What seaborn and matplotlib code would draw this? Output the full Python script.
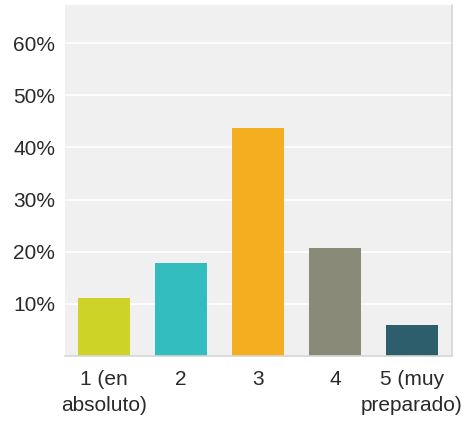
import matplotlib
matplotlib.use("Agg")
import matplotlib.pyplot as plt
import seaborn as sns
import pandas as pd

categories = ["1 (en\nabsoluto)", "2", "3", "4", "5 (muy\npreparado)"]
values = [11.1, 17.8, 43.7, 20.7, 5.9]
colors = ["#cdd427", "#33bdbf", "#f5ae1f", "#8a8a79", "#2d5e6b"]
yticks = [10, 20, 30, 40, 50, 60]
ytick_labels = ["10%", "20%", "30%", "40%", "50%", "60%"]

sns.set_theme(style="white")
plt.rcParams['font.family'] = ['Liberation Sans', 'DejaVu Sans']

df = pd.DataFrame({"cat": categories, "val": values})

fig = plt.figure(figsize=(4.65, 4.22), dpi=100)
ax = fig.add_axes([65/465, 1 - 356/422, (452-65)/465, (356-5)/422])
ax.set_facecolor("#f0f0f0")

sns.barplot(data=df, x="cat", y="val", hue="cat", palette=colors,
            width=0.675, legend=False, ax=ax, saturation=1, linewidth=0)

ax.set_ylim(0, 67.3)
ax.set_xlim(-0.506, 4.52)
ax.set_yticks(yticks)
ax.set_yticklabels(ytick_labels)
ax.yaxis.grid(True, color="white", linewidth=1.2)
ax.set_axisbelow(True)
ax.set_xlabel("")
ax.set_ylabel("")
ax.tick_params(axis="both", length=0, labelsize=15, labelcolor="#2a2a2a")
ax.tick_params(axis="y", pad=7)
ax.tick_params(axis="x", pad=10)
for lab in ax.get_xticklabels():
    lab.set_linespacing(1.45)

for s in ["top", "left"]:
    ax.spines[s].set_visible(False)
ax.spines["bottom"].set_color("#d6d6d6")
ax.spines["bottom"].set_linewidth(1.2)
ax.spines["right"].set_color("#d6d6d6")
ax.spines["right"].set_linewidth(1.2)

fig.savefig("out.png", dpi=100)
